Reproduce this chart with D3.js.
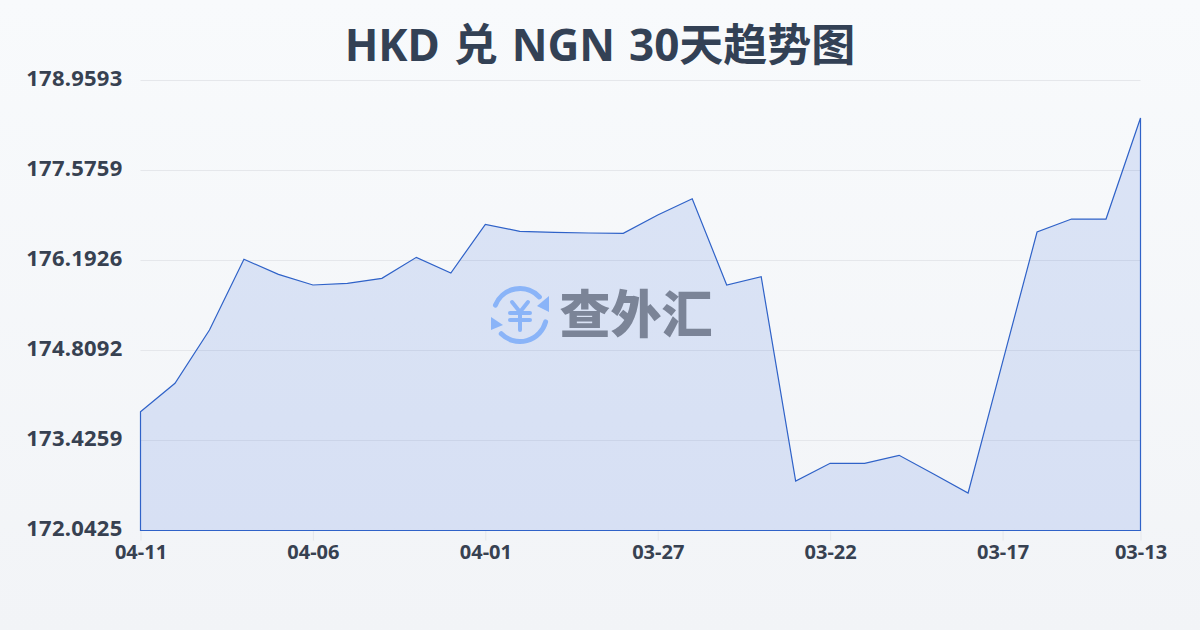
<!DOCTYPE html>
<html><head><meta charset="utf-8">
<script src="https://cdn.jsdelivr.net/npm/d3@7"></script>
<style>html,body{margin:0;padding:0;background:#f8fafc}svg{display:block}text{font-family:"Noto Sans","Noto Sans CJK SC",sans-serif}</style>
</head><body><div id="c"></div>
<script>
const titleText = "HKD 兑 NGN 30天趋势图";
const dates = ["04-11","04-10","04-09","04-08","04-07","04-06","04-05","04-04","04-03","04-02","04-01","03-31","03-30","03-29","03-28","03-27","03-26","03-25","03-24","03-23","03-22","03-21","03-20","03-19","03-18","03-17","03-16","03-15","03-14","03-13"];
const rates = [173.868,174.305,175.124,176.211,175.980,175.816,175.842,175.919,176.241,176.000,176.749,176.641,176.626,176.615,176.610,176.891,177.142,175.816,175.943,172.803,173.075,173.075,173.198,172.910,172.619,174.632,176.630,176.830,176.830,178.383];
const yTicks = [172.0425,173.4259,174.8092,176.1926,177.5759,178.9593];
const xTicks = ["04-11","04-06","04-01","03-27","03-22","03-17","03-13"];
const W=1200,H=630,L=140.5,R=1140.5,T=80.5,B=530.5;
const svg=d3.select("#c").append("svg").attr("width",W).attr("height",H);
const defs=svg.append("defs");
const bg=defs.append("linearGradient").attr("id","bg").attr("x1",0).attr("y1",0).attr("x2",0).attr("y2",1);
bg.append("stop").attr("offset","0%").attr("stop-color","#f8fafc");
bg.append("stop").attr("offset","100%").attr("stop-color","#f2f4f7");
svg.append("rect").attr("width",W).attr("height",H).attr("fill","url(#bg)");
const x=d3.scalePoint().domain(dates).range([L,R]);
const y=d3.scaleLinear().domain([yTicks[0],yTicks[yTicks.length-1]]).range([B,T]);
svg.append("text").attr("x",600).attr("y",61).attr("text-anchor","middle").attr("font-size",44).attr("font-weight",700).attr("fill","#334155").style("word-spacing","2.5px").text(titleText);
svg.append("g").selectAll("line").data(yTicks.slice(1)).join("line")
 .attr("x1",L).attr("x2",R).attr("y1",d=>Math.round(y(d)-.5)+.5).attr("y2",d=>Math.round(y(d)-.5)+.5).attr("stroke","#e5e7eb").attr("stroke-width",1);
const ya=svg.append("g").attr("transform",`translate(${L},0)`).call(d3.axisLeft(y).tickValues(yTicks).tickFormat(d3.format(".4f")).tickSize(0).tickPadding(16));
ya.select(".domain").remove();
ya.selectAll("text").attr("font-size",22).attr("font-weight",700).attr("fill","#374151").attr("dy",null).attr("y",5).attr("x",-18).style("letter-spacing","0.25px");
const xa=svg.append("g").attr("transform",`translate(0,${B})`).call(d3.axisBottom(x).tickValues(xTicks).tickSize(10).tickPadding(4));
xa.select(".domain").remove();
xa.selectAll("line").attr("stroke","#e5e7eb");
xa.selectAll("text").attr("font-size",20).attr("font-weight",700).attr("fill","#374151");
const area=d3.area().x((d,i)=>x(dates[i])).y0(B).y1(d=>y(d));
svg.append("path").datum(rates).attr("d",area).attr("fill","#2f66dd").attr("fill-opacity",0.14).attr("stroke","#2f62c8").attr("stroke-width",1.2).attr("stroke-linejoin","miter");
const logo=svg.append("g").attr("transform","translate(520,315)");
const blue="#8ab4f8";
const polar=(a,r)=>[r*Math.sin(a*Math.PI/180),-r*Math.cos(a*Math.PI/180)];
const arcP=(a0,a1,r)=>{const p0=polar(a0,r),p1=polar(a1,r);return `M${p0}A${r},${r} 0 0 1 ${p1}`;};
logo.append("path").attr("d",arcP(-68,47,26.5)).attr("fill","none").attr("stroke",blue).attr("stroke-width",5).attr("stroke-linecap","round");
logo.append("path").attr("d",arcP(105,225,26.5)).attr("fill","none").attr("stroke",blue).attr("stroke-width",5).attr("stroke-linecap","round");
logo.append("path").attr("d","M29,-19L29,-3L17,-9Z").attr("fill",blue);
logo.append("path").attr("d","M-29,2L-29,15L-17,10Z").attr("fill",blue);
logo.append("path").attr("d","M-8,-13L0,-3L8,-13M-10,-2H10M-10,5H10M0,-3V15").attr("fill","none").attr("stroke",blue).attr("stroke-width",4).attr("stroke-linecap","round").attr("stroke-linejoin","round");
svg.append("text").attr("x",636).attr("y",333).attr("text-anchor","middle").attr("font-size",51).attr("font-weight",900).style("font-family",'"Noto Sans CJK SC"').attr("fill","#7b8497").text("查外汇");
</script></body></html>
